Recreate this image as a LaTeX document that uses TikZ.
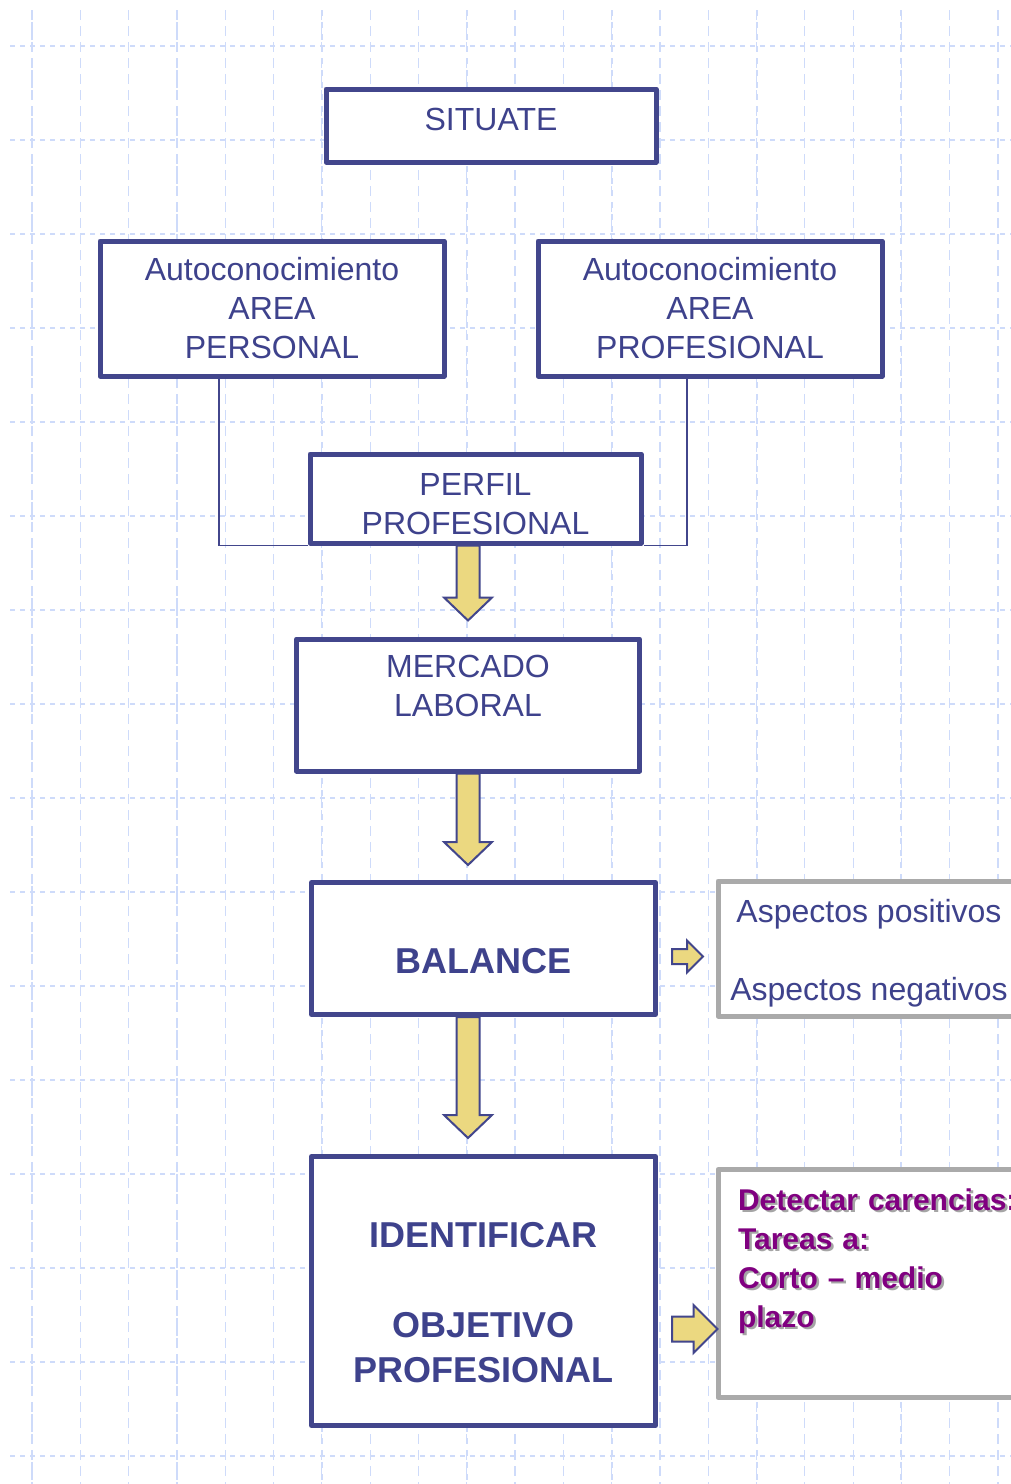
\documentclass[tikz,border=0pt]{standalone}
\usepackage{fontspec}
\setmainfont{Liberation Sans}
\usetikzlibrary{positioning,calc}
\definecolor{colorbox}   {RGB}{ 66, 70,140}
\definecolor{colortext}  {RGB}{ 62, 66,140}
\definecolor{colorarrow} {RGB}{235,216,128}
\definecolor{colorside}  {RGB}{170,170,170}
\definecolor{colorgoal}  {RGB}{128,  0,128}
\definecolor{colorshadow}{RGB}{165,165,165}
\definecolor{colorgrid}  {RGB}{206,219,250}

\newcommand{\blockdown}[2]{%
  \draw[block] let \p1=#1, \p2=#2 in
    (\x2-11.5pt,\y1) -- (\x2+11.5pt,\y1) -- (\x2+11.5pt,\y2+23pt) -- (\x2+24pt,\y2+23pt)
    -- (\x2,\y2) -- (\x2-24pt,\y2+23pt) -- (\x2-11.5pt,\y2+23pt) -- cycle;}
\newcommand{\blockright}[5]{%
  \draw[block] let \p1=#1, \p2=#2 in
    (\x1,\y1+#3) -- (\x2-#5,\y1+#3) -- (\x2-#5,\y1+#4) -- (\x2,\y1)
    -- (\x2-#5,\y1-#4) -- (\x2-#5,\y1-#3) -- (\x1,\y1-#3) -- cycle;}
\newcommand{\shadowed}[1]{\makebox[0pt][l]{\hspace{2.5pt}\raisebox{-2.5pt}{\color{colorshadow}#1}}#1}

\begin{document}
\begin{tikzpicture}[
    x=1pt, y=-1pt,
    base/.style={draw=colorbox,fill=white,line width=5pt,line join=round,inner sep=0pt,
                 text=colortext,align=center,font=\fontsize{32}{39}\selectfont},
    strong/.style={base,font=\fontsize{36}{45}\selectfont\bfseries},
    side/.style={base,draw=colorside},
    link/.style={draw=colorbox,line width=1.5pt},
    block/.style={draw=colorbox,fill=colorarrow,line width=2pt,line join=miter},
    gridh/.style={colorgrid,line width=2pt,dash pattern=on 5pt off 5pt},
    gridv/.style={colorgrid,line width=1.2pt,dash pattern=on 10pt off 6pt},
]
    \useasboundingbox (0,0) rectangle (1011,1484);
    \clip (0,0) rectangle (1011,1484);
    \fill[white] (0,0) rectangle (1011,1484);

    \foreach \i in {0,...,15} \draw[gridh] (10,46+94*\i) -- (1011,46+94*\i);
    \foreach \i in {0,...,20} \draw[gridv] (32+48.3*\i,10) -- (32+48.3*\i,1484);
    \foreach \i in {0,...,6} \draw[gridv,line width=2pt,dash pattern=on 6pt off 6pt] (32+144.9*\i,10) -- (32+144.9*\i,1484);

    \node[base,minimum width=330,minimum height=73,text height=23pt,text depth=13pt] (situate) at (491,125.5) {SITUATE};

    \node[base,minimum width=344,minimum height=135] (autopers) at (272,308.5) {Autoconocimiento\\AREA\\PERSONAL};
    \node[base,minimum width=344,minimum height=135] (autoprof) at (710,308.5) {Autoconocimiento\\AREA\\PROFESIONAL};

    \node[base,minimum width=331,minimum height=89] (perfil) at (475.5,498.5) {\mbox{}\\[-6pt]PERFIL\\PROFESIONAL};

    \draw[link] ([xshift=121.5pt]autopers.south west) |- (perfil.south west);
    \draw[link] ([xshift=151.5pt]autoprof.south west) |- (perfil.south east);

    \node[base,minimum width=343,minimum height=132] (mercado) at (468,705) {MERCADO\\LABORAL\\\mbox{}};

    \node[strong,minimum width=344,minimum height=132,text height=49pt,text depth=0pt] (balance) at (483.5,948.5) {BALANCE};

    \node[strong,minimum width=344,minimum height=269] (identificar) at (483.5,1291) {\mbox{}\\[3pt]IDENTIFICAR\\[45pt]OBJETIVO\\PROFESIONAL};

    \node[side,minimum width=302,minimum height=135,right=57.5pt of balance] (aspectos) {\mbox{}\\[-6pt]Aspectos positivos\\[39pt]Aspectos negativos};

    \node[side,minimum width=330,minimum height=228,inner xsep=20pt,text width=290pt,align=left,
          text=colorgoal,font=\fontsize{30}{39}\selectfont\bfseries,
          right=57.5pt of identificar,yshift=7.5pt] (detectar)
          {\shadowed{Detectar carencias:}\\\shadowed{Tareas a:}\\\shadowed{Corto – medio}\\\shadowed{plazo}\\[12pt]\mbox{}};

    \blockdown{(perfil.south -| mercado.north)}{([yshift=16pt]mercado.north)}
    \blockdown{(mercado.south)}{([yshift=15pt]balance.north -| mercado.south)}
    \blockdown{(balance.south -| mercado.south)}{([yshift=16pt]identificar.north -| mercado.south)}

    \blockright{([xshift=14pt,yshift=-8pt]balance.east)}{([xshift=-12.5pt]aspectos.west)}{7.5pt}{16pt}{16pt}
    \blockright{([xshift=14pt,yshift=-38pt]identificar.east)}{([xshift=2pt]detectar.west)}{12.5pt}{24pt}{24pt}
\end{tikzpicture}
\end{document}
